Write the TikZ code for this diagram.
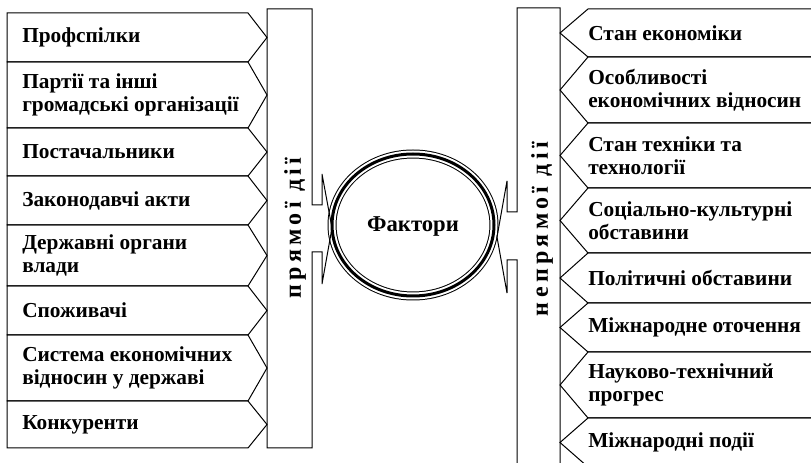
\documentclass[tikz,border=0pt]{standalone}
\usepackage{fontspec}
\setmainfont{Liberation Serif}
\newfontfamily\spacedfont[LetterSpace=18]{Liberation Serif}

\begin{document}
\begin{tikzpicture}[x=0.75pt, y=-0.75pt]
        % --- Styles ---
        \tikzstyle{outline}=[line width=0.75pt, black]
        \tikzstyle{factor}=[anchor=west, align=left, inner sep=0pt, font=\fontsize{16}{17.25}\selectfont\bfseries]
        \tikzstyle{bartext}=[rotate=90, inner sep=0pt, font=\fontsize{18}{20}\selectfont\spacedfont\bfseries]
        \tikzstyle{hubtext}=[inner sep=0pt, font=\fontsize{17}{19}\selectfont\bfseries]

        \useasboundingbox (0,0) rectangle (811,463);
        \clip (0,0) rectangle (811,463);

        % --- 1. Direct factors (left column) ---
        \foreach \ya/\yb/\txt [count=\i] in {13/62/Профспілки, 62/128/{Партії та інші\\громадські організації},
            128/176/Постачальники, 176/225/Законодавчі акти, 225/286/{Державні органи\\влади},
            286/335/Споживачі, 335/401/{Система економічних\\відносин у державі}, 401/448/Конкуренти}
        {
            \draw[outline] (7,\ya) -- (248,\ya) -- (267,{(\ya+\yb)/2}) -- (248,\yb) -- (7,\yb) -- cycle;
            \node[factor] (direct\i) at (22,{(\ya+\yb)/2}) {\txt};
        }

        % --- 2. Indirect factors (right column) ---
        \foreach \ya/\yb/\txt [count=\i] in {9/57/Стан економіки, 57/123/{Особливості\\економічних відносин},
            123/188/{Стан техніки та\\технології}, 188/253/{Соціально-культурні\\обставини},
            253/303/Політичні обставини, 303/352/Міжнародне оточення,
            352/418/{Науково-технічний\\прогрес}, 418/467/Міжнародні події}
        {
            \draw[outline] (820,\ya) -- (588,\ya) -- (560,{(\ya+\yb)/2}) -- (588,\yb) -- (820,\yb);
            \node[factor] (indirect\i) at (588,{(\ya+\yb)/2}) {\txt};
        }

        % --- 3. Central ellipse (thin-thick-thin) ---
        \draw[line width=6.75pt] (413,225) ellipse [x radius=81, y radius=71];
        \draw[line width=5.25pt, white] (413,225) ellipse [x radius=81, y radius=71];
        \draw[line width=2.25pt] (413,225) ellipse [x radius=81, y radius=71];
        \node[hubtext] (hub) at (413,226) {Фактори};

        % --- 4. Callout bars ---
        \draw[outline] (267,9) -- (312,9) -- (312,205) -- (322,205) -- (322,174) -- (332,228)
            -- (322,284) -- (322,252) -- (312,252) -- (312,448) -- (267,448) -- cycle;
        \node[bartext] (directbar) at (295,228) {прямої дії};

        \draw[outline] (560,8) -- (517,8) -- (517,212) -- (507,212) -- (507,181) -- (497,237)
            -- (507,293) -- (507,260) -- (517,260) -- (517,475) -- (560,475) -- cycle;
        \node[bartext] (indirectbar) at (542,229) {непрямої дії};

    \end{tikzpicture}
\end{document}
